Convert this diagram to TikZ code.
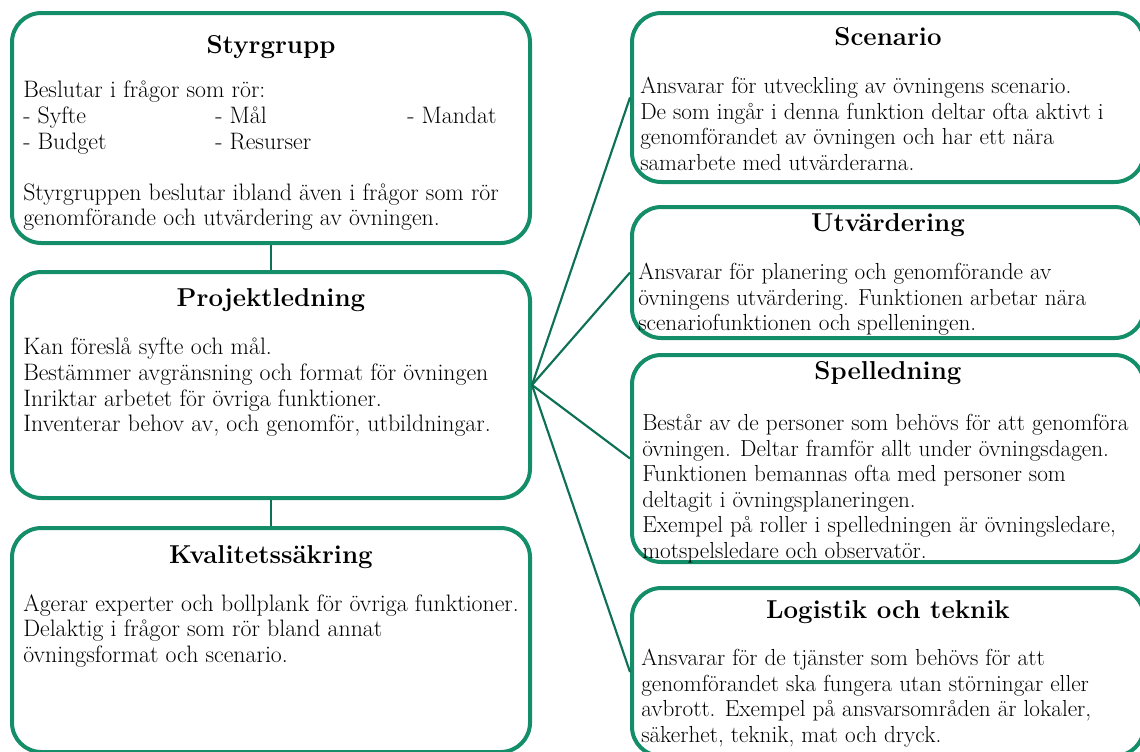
\documentclass[tikz,border=0pt]{standalone}
\usepackage{tikz}

\definecolor{boxgreen}{RGB}{20,142,104}
\definecolor{linegreen}{RGB}{14,112,84}
\tikzset{
  box/.style={draw=boxgreen, line width=3pt, rounded corners=22pt, inner sep=0pt},
  conn/.style={draw=linegreen, line width=1.6pt},
  head/.style={font=\fontsize{19.4}{22}\selectfont\bfseries},
  body/.style={anchor=north west, inner sep=0pt, align=left, font=\fontsize{17.85}{19.2}\selectfont},
  bodyr/.style={body, font=\fontsize{17.4}{19.2}\selectfont}
}

\begin{document}
\begin{tikzpicture}[x=0.75pt,y=0.75pt,yscale=-1,xscale=1]
\useasboundingbox (0,0) rectangle (1140,751);
\clip (0,0) rectangle (1140,751);

%Shape: Rounded Rect
\node[box, minimum width=388.5pt, minimum height=172.5pt] (styr) at (271,128) {};
%Shape: Rounded Rect
\node[box, minimum width=388.5pt, minimum height=169.5pt] (proj) at (271,385) {};
%Shape: Rounded Rect
\node[box, minimum width=388.5pt, minimum height=168pt] (kval) at (271,640) {};
%Shape: Rounded Rect
\node[box, minimum width=384pt, minimum height=126.75pt] (scen) at (888,97.5) {};
%Shape: Rounded Rect
\node[box, minimum width=384pt, minimum height=98.25pt] (utv) at (888,272.5) {};
%Shape: Rounded Rect
\node[box, minimum width=384pt, minimum height=155.25pt] (spel) at (888,458.5) {};
%Shape: Rounded Rect
\node[box, minimum width=384pt, minimum height=126pt] (logi) at (888,672) {};

%Straight Lines
\draw[conn] (styr.south) -- (proj.north);
\draw[conn] (proj.south) -- (kval.north);
\draw[conn] (proj.east) -- (scen.west);
\draw[conn] (proj.east) -- (utv.west);
\draw[conn] (proj.east) -- (spel.west);
\draw[conn] (proj.east) -- (logi.west);

% Text Node
\node[head] (styrhead) at (271,47) {Styrgrupp};
% Text Node
\node[body] (styrtext) at (23,81) {Beslutar i frågor som rör:\\
\makebox[144pt][l]{- Syfte}\makebox[144pt][l]{- Mål}- Mandat\\
\makebox[144pt][l]{- Budget}- Resurser\\
\mbox{}\\
Styrgruppen beslutar ibland även i frågor som rör\\
genomförande och utvärdering av övningen.};
% Text Node
\node[head] (projhead) at (271,300) {Projektledning};
% Text Node
\node[body] (projtext) at (23,338) {Kan föreslå syfte och mål.\\
Bestämmer avgränsning och format för övningen\\
Inriktar arbetet för övriga funktioner.\\
Inventerar behov av, och genomför, utbildningar.};
% Text Node
\node[head] (kvalhead) at (271,557) {Kvalitetssäkring};
% Text Node
\node[body] (kvaltext) at (23,594) {Agerar experter och bollplank för övriga funktioner.\\
Delaktig i frågor som rör bland annat\\
övningsformat och scenario.};
% Text Node
\node[head] (scenhead) at (888,37) {Scenario};
% Text Node
\node[bodyr] (scentext) at (640,77) {Ansvarar för utveckling av övningens scenario.\\
De som ingår i denna funktion deltar ofta aktivt i\\
genomförandet av övningen och har ett nära\\
samarbete med utvärderarna.};
% Text Node
\node[head] (utvhead) at (888,225) {Utvärdering};
% Text Node
\node[bodyr] (utvtext) at (638,263) {Ansvarar för planering och genomförande av\\
övningens utvärdering. Funktionen arbetar nära\\
scenariofunktionen och spelleningen.};
% Text Node
\node[head] (spelhead) at (888,373) {Spelledning};
% Text Node
\node[bodyr] (speltext) at (642,414) {Består av de personer som behövs för att genomföra\\
övningen. Deltar framför allt under övningsdagen.\\
Funktionen bemannas ofta med personer som\\
deltagit i övningsplaneringen.\\
Exempel på roller i spelledningen är övningsledare,\\
motspelsledare och observatör.};
% Text Node
\node[head] (logihead) at (888,612) {Logistik och teknik};
% Text Node
\node[bodyr] (logitext) at (641,649) {Ansvarar för de tjänster som behövs för att\\
genomförandet ska fungera utan störningar eller\\
avbrott. Exempel på ansvarsområden är lokaler,\\
säkerhet, teknik, mat och dryck.};

\end{tikzpicture}
\end{document}
